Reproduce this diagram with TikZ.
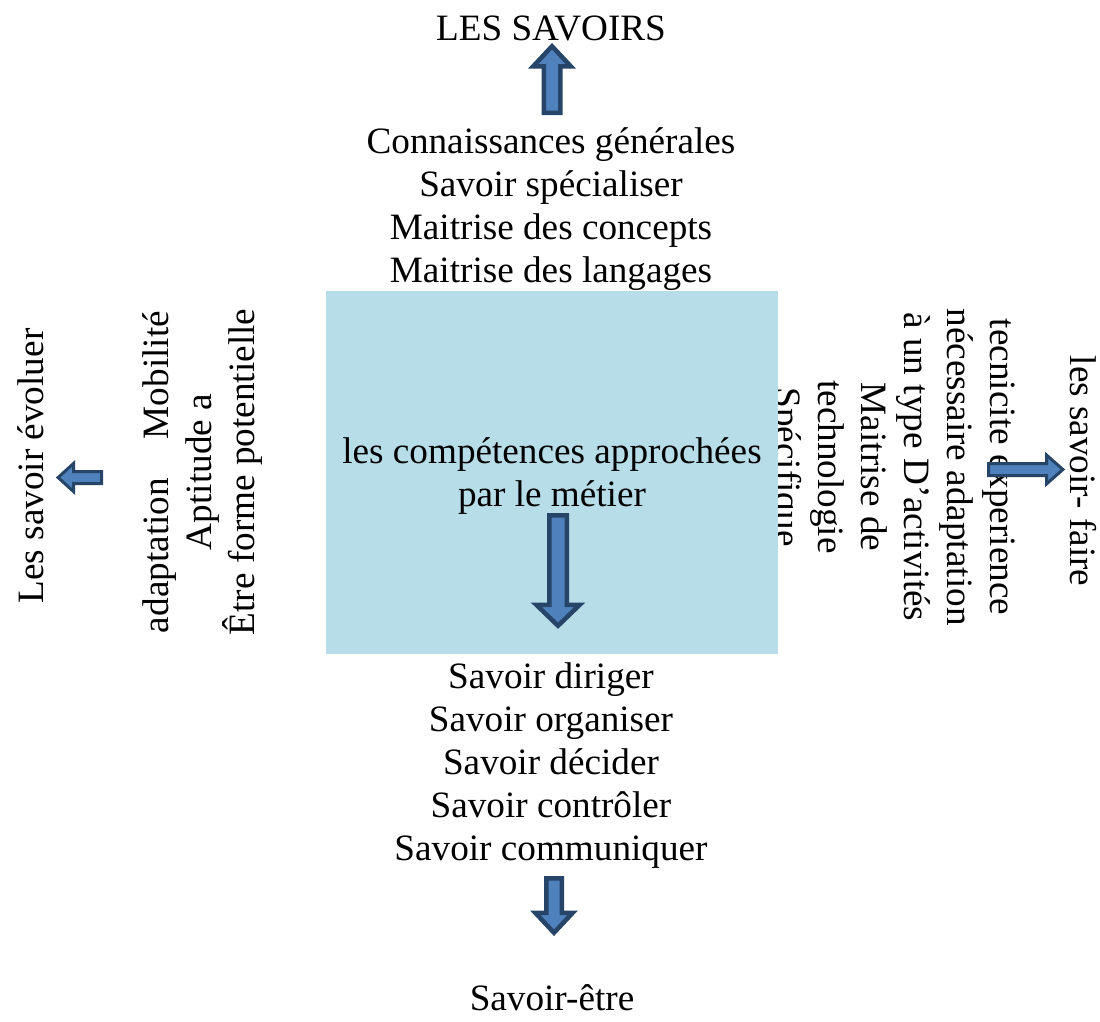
\documentclass[tikz,border=0pt]{standalone}
\usepackage{fontspec}
\setmainfont{Liberation Serif}
\definecolor{boxfill}{HTML}{B7DDE8}
\definecolor{arrowfill}{HTML}{4F81BD}
\definecolor{arrowline}{HTML}{274469}
\tikzset{
  txt/.style={inner sep=0pt, outer sep=0pt, align=center, font=\fontsize{37.2}{43}\selectfont},
  bigarrow/.style={line width=4.5pt},
  smallarrow/.style={line width=3pt},
  % block arrow pointing along +x: length / shaft half-width / head half-width / head length
  pics/blockarrow/.style args={#1/#2/#3/#4}{code={
    \path[draw=arrowline, fill=arrowfill, line join=miter]
      (0,-#2) -- ({#1-#4},-#2) -- ({#1-#4},-#3) -- (#1,0)
      -- ({#1-#4},#3) -- ({#1-#4},#2) -- (0,#2) -- cycle;
  }}
}
\begin{document}
\begin{tikzpicture}[x=1pt,y=-1pt]
\useasboundingbox (0,0) rectangle (1100,1021);

% central box (multi-line nodes are anchored at the baseline of their last line)
\node[fill=boxfill, minimum width=452pt, minimum height=363pt, inner sep=0pt, outer sep=0pt] (metier) at (552,472.5) {};
\node[txt, anchor=base] (metiertxt) at (552,506) {les compétences approchées\\par le métier};

% top: les savoirs
\node[txt, anchor=base] (savoirs) at (551,40) {LES SAVOIRS};
\node[txt, anchor=base] (toplist) at (551,282) {Connaissances générales\\Savoir spécialiser\\Maitrise des concepts\\Maitrise des langages};

% bottom: savoir-etre
\node[txt, anchor=base] (botlist) at (551,860) {Savoir diriger\\Savoir organiser\\Savoir décider\\Savoir contrôler\\Savoir communiquer};
\node[txt, anchor=base] (etre) at (552,1010) {Savoir-être};

% left: savoir evoluer
\node[txt, anchor=base, rotate=90] (evoluer) at (43,466) {Les savoir évoluer};
\node[txt, anchor=base, rotate=90] (leftlist) at (254,472) {adaptation\hspace{39pt}Mobilité\\Aptitude a\\Être forme potentielle};

% right: savoir-faire
\node[txt, anchor=base, rotate=-90] (faire) at (1070,471) {les savoir- faire};
\begin{scope}
  \clip (778,280) rectangle (1040,660);
  \node[txt, anchor=base, rotate=-90] (rightlist) at (775,467) {tecnicite experience\\nécessaire adaptation\\à un type D’activités\\Maitrise de\\technologie\\Spécifique};
\end{scope}

% block arrows
\pic[bigarrow, rotate=90] at (552,112.75) {blockarrow={66.5/8.25/18.75/20}};
\pic[bigarrow, rotate=-90] at (558,515.25) {blockarrow={110.5/8.75/21.75/21}};
\pic[bigarrow, rotate=-90] at (554,878.25) {blockarrow={54.5/7.75/18.75/20}};
\pic[smallarrow, rotate=180] at (101.5,477.5) {blockarrow={43.4/6/14/15.4}};
\pic[smallarrow] at (988.5,469.5) {blockarrow={74.4/6/14.5/16.4}};
\end{tikzpicture}
\end{document}
